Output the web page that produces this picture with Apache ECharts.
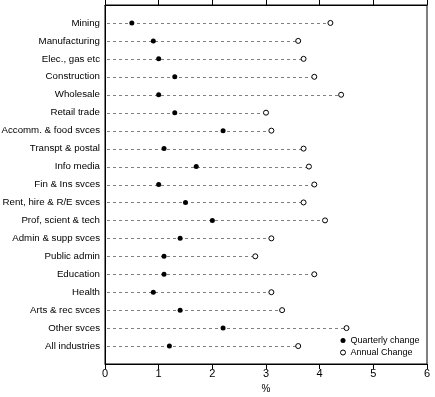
<!DOCTYPE html>
<html>
<head>
<meta charset="utf-8">
<script src="https://cdn.jsdelivr.net/npm/echarts@6/dist/echarts.min.js"></script>
<style>html,body{margin:0;padding:0;background:#fff}#c{width:435px;height:397px}</style>
</head>
<body>
<div id="c"></div>
<script>
const categories = ['Mining','Manufacturing','Elec., gas etc','Construction','Wholesale','Retail trade','Accomm. & food svces','Transpt & postal','Info media','Fin & Ins svces','Rent, hire & R/E svces','Prof, scient & tech','Admin & supp svces','Public admin','Education','Health','Arts & rec svces','Other svces','All industries'];
const quarterly = [0.5,0.9,1.0,1.3,1.0,1.3,2.2,1.1,1.7,1.0,1.5,2.0,1.4,1.1,1.1,0.9,1.4,2.2,1.2];
const annual = [4.2,3.6,3.7,3.9,4.4,3.0,3.1,3.7,3.8,3.9,3.7,4.1,3.1,2.8,3.9,3.1,3.3,4.5,3.6];
const xTicks = [0,1,2,3,4,5,6];
const seriesNames = ['Quarterly change','Annual Change'];

const font = "'Liberation Sans', Arial, sans-serif";
const yCats = [' '].concat(categories, ['  ']);
const chart = echarts.init(document.getElementById('c'), null, {renderer:'canvas'});
chart.setOption({
  animation:false,
  backgroundColor:'#fff',
  textStyle:{fontFamily:font},
  grid:{left:105,right:8,top:5,bottom:33,containLabel:false,outerBoundsMode:'none',show:true,borderColor:'#000',borderWidth:1,backgroundColor:'transparent'},
  legend:{
    orient:'vertical', left:340, top:336, padding:0, itemGap:3,
    itemWidth:5, itemHeight:5,
    itemStyle:{borderWidth:1},
    textStyle:{fontSize:9,color:'#000',fontFamily:font},
    data:[{name:seriesNames[0],icon:'circle'},{name:seriesNames[1],icon:'circle'}]
  },
  xAxis:[{
    type:'value', min:xTicks[0], max:xTicks[xTicks.length-1], interval:1,
    position:'bottom',
    axisLine:{show:true,lineStyle:{color:'#000',width:1}},
    axisTick:{show:true,length:5,inside:false,lineStyle:{color:'#000'}},
    axisLabel:{fontSize:11,color:'#000',margin:4,fontFamily:font},
    splitLine:{show:false},
    name:'%', nameLocation:'middle', nameGap:15,
    nameTextStyle:{fontSize:10,color:'#000',fontFamily:font}
  },{
    type:'value', min:xTicks[0], max:xTicks[xTicks.length-1], interval:1,
    position:'top',
    axisLine:{show:true,lineStyle:{color:'#000',width:1}},
    axisTick:{show:true,length:5,inside:false,lineStyle:{color:'#000'}},
    axisLabel:{show:false},
    splitLine:{show:false}
  }],
  yAxis:{
    type:'category', data:yCats, inverse:true, boundaryGap:false,
    axisLine:{show:true,lineStyle:{color:'#000',width:1}},
    axisTick:{show:false},
    axisLabel:{fontSize:9.7,color:'#000',margin:5,fontFamily:font,interval:0},
    splitLine:{show:false}
  },
  series:[{
    type:'custom',
    name:'guide',
    silent:true,
    z:1,
    encode:{x:0,y:1},
    data:annual.map((v,i)=>[v,categories[i]]),
    renderItem:function(params, api){
      const y = api.value(1);
      const p0 = api.coord([0, y]);
      const p1 = api.coord([api.value(0), y]);
      return {type:'line', shape:{x1:p0[0]+2,y1:Math.round(p0[1])+0.5,x2:p1[0],y2:Math.round(p1[1])+0.5},
        style:{stroke:'#808080',lineWidth:1,lineDash:[3,3]}};
    }
  },{
    type:'scatter', name:seriesNames[1], z:3,
    symbol:'circle', symbolSize:5,
    itemStyle:{color:'#fff',borderColor:'#000',borderWidth:1,opacity:1},
    data:annual.map((v,i)=>[v,categories[i]])
  },{
    type:'scatter', name:seriesNames[0], z:4,
    symbol:'circle', symbolSize:5,
    itemStyle:{color:'#000',opacity:1},
    data:quarterly.map((v,i)=>[v,categories[i]])
  }]
});
</script>
</body>
</html>
